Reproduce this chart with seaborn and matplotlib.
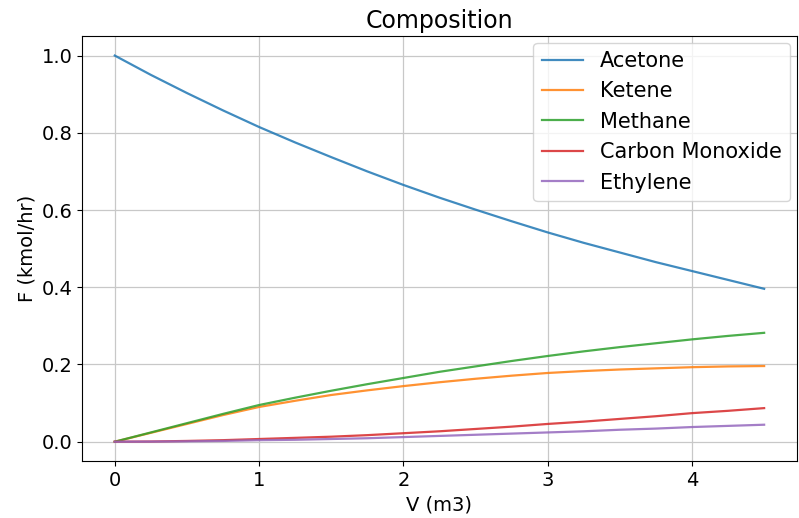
import numpy as np
import pandas as pd
import matplotlib
matplotlib.use("Agg")
import matplotlib.pyplot as plt
import seaborn as sns

# Values (V step 0.25 m3)
volume = [0.0, 0.25, 0.5, 0.75, 1.0, 1.25, 1.5, 1.75, 2.0, 2.25,
          2.5, 2.75, 3.0, 3.25, 3.5, 3.75, 4.0, 4.25, 4.5]
acetone = [1.0, 0.950, 0.903, 0.858, 0.815, 0.775, 0.737, 0.700, 0.665, 0.632,
           0.601, 0.571, 0.542, 0.515, 0.490, 0.465, 0.442, 0.419, 0.396]
ketene = [0.0, 0.023, 0.046, 0.069, 0.090, 0.106, 0.121, 0.133, 0.144, 0.154,
          0.163, 0.171, 0.178, 0.183, 0.187, 0.190, 0.193, 0.195, 0.196]
methane = [0.0, 0.024, 0.048, 0.072, 0.095, 0.114, 0.132, 0.149, 0.165, 0.181,
           0.195, 0.209, 0.222, 0.234, 0.245, 0.255, 0.265, 0.274, 0.282]
carbon_monoxide = [0.0, 0.0005, 0.002, 0.004, 0.007, 0.010, 0.013, 0.017, 0.022, 0.027,
                   0.033, 0.039, 0.046, 0.052, 0.059, 0.066, 0.074, 0.080, 0.087]
ethylene = [0.0, 0.0003, 0.001, 0.002, 0.004, 0.005, 0.007, 0.009, 0.012, 0.015,
            0.018, 0.021, 0.024, 0.027, 0.031, 0.034, 0.038, 0.041, 0.044]

species = ["Acetone", "Ketene", "Methane", "Carbon Monoxide", "Ethylene"]
series = [acetone, ketene, methane, carbon_monoxide, ethylene]

# Long form table for seaborn
df = pd.concat([pd.DataFrame({"V": volume, "F": vals, "species": name})
                for name, vals in zip(species, series)], ignore_index=True)

plt.rcParams["font.family"] = ["DejaVu Sans"]
fig, ax = plt.subplots(figsize=(7.99, 5.18), dpi=100)
fig.subplots_adjust(left=0.103, right=0.997, top=0.930, bottom=0.110)

sns.lineplot(data=df, x="V", y="F", hue="species", hue_order=species,
             palette=sns.color_palette("tab10", 5), linewidth=1.6, alpha=0.85, ax=ax)

ax.grid(True, color="#c8c8c8", linewidth=0.9)
ax.set_axisbelow(True)
ax.set_xticks([0, 1, 2, 3, 4])
ax.set_yticks([0.0, 0.2, 0.4, 0.6, 0.8, 1.0])
ax.tick_params(labelsize=14)
ax.set_xlabel("V (m3)", fontsize=14)
ax.set_ylabel("F (kmol/hr)", fontsize=14)
ax.set_title("Composition", fontsize=17)
leg = ax.legend(loc="upper right", fontsize=15, title=None, borderaxespad=0.3)
for line in leg.get_lines():
    line.set_alpha(0.85)

plt.savefig("out.png", dpi=100)
